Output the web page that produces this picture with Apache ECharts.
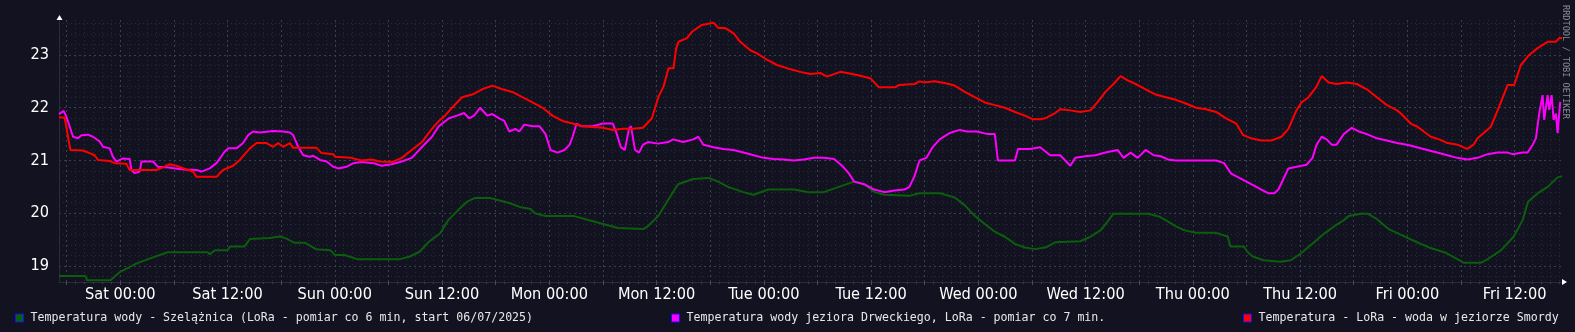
<!DOCTYPE html>
<html><head><meta charset="utf-8">
<script src="https://cdn.jsdelivr.net/npm/echarts@6/dist/echarts.min.js"></script>
<style>html,body{margin:0;padding:0;background:#121221;}#c{width:1575px;height:332px;}</style>
</head><body><div id="c"></div><script>
// hours relative to Saturday 00:00
const xLabelValues = [0,12,24,36,48,60,72,84,96,108,120,132,144,156];
const xLabelTexts = ['Sat 00:00','Sat 12:00','Sun 00:00','Sun 12:00','Mon 00:00','Mon 12:00','Tue 00:00','Tue 12:00','Wed 00:00','Wed 12:00','Thu 00:00','Thu 12:00','Fri 00:00','Fri 12:00'];
const yLabelValues = [19,20,21,22,23];
const seriesNames = [
  'Temperatura wody - Szelążnica (LoRa - pomiar co 6 min, start 06/07/2025)',
  'Temperatura wody jeziora Drweckiego, LoRa - pomiar co 7 min.',
  'Temperatura - LoRa - woda w jeziorze Smordy'
];
const seriesColors = ['#0b5e0b','#ff00ff','#ff0000'];

const greenData = [[-6.85,18.81],[-3.9,18.81],[-3.7,18.73],[-1.1,18.73],[0,18.89],[1.85,19.05],[3.6,19.16],[5.3,19.26],[9.8,19.26],[10.0,19.22],[10.6,19.30],[12.0,19.30],[12.3,19.37],[13.9,19.37],[14.5,19.51],[16.7,19.53],[17.9,19.56],[18.6,19.52],[19.5,19.44],[20.7,19.44],[21.9,19.32],[23.5,19.30],[24.0,19.21],[25.1,19.21],[26.5,19.13],[31.3,19.13],[32.4,19.18],[33.5,19.27],[34.4,19.44],[35.8,19.62],[36.7,19.87],[37.8,20.06],[38.8,20.22],[39.7,20.29],[41.4,20.29],[43.6,20.19],[44.7,20.12],[45.9,20.08],[46.4,20.0],[47.5,19.95],[50.7,19.95],[53.7,19.81],[55.7,19.72],[58.5,19.70],[59.0,19.75],[60.2,19.95],[61.3,20.25],[62.4,20.55],[64.1,20.65],[65.8,20.67],[66.9,20.6],[68.0,20.5],[69.7,20.4],[70.85,20.35],[72.5,20.45],[75.4,20.45],[77.0,20.4],[78.7,20.4],[80.4,20.5],[82.1,20.6],[83.2,20.55],[84.4,20.4],[85.5,20.35],[88.3,20.33],[89.4,20.38],[91.7,20.38],[93.35,20.3],[94.5,20.15],[95.6,19.95],[96.7,19.8],[97.85,19.65],[99.0,19.55],[100.1,19.42],[101.2,19.35],[102.35,19.32],[103.5,19.35],[104.6,19.45],[107.4,19.47],[108.5,19.55],[109.7,19.68],[110.5,19.85],[111.1,19.99],[115.0,19.99],[116.2,19.94],[116.95,19.87],[118.0,19.76],[119.0,19.68],[120.3,19.63],[122.5,19.63],[123.3,19.59],[123.9,19.56],[124.2,19.37],[125.7,19.37],[126.1,19.27],[126.7,19.18],[127.9,19.11],[129.8,19.08],[130.95,19.11],[132.1,19.24],[133.5,19.44],[134.5,19.59],[135.8,19.75],[136.9,19.87],[137.45,19.95],[138.8,19.99],[139.6,19.99],[140.5,19.90],[141.9,19.70],[143.3,19.59],[144.95,19.46],[146.6,19.34],[148.3,19.25],[149.8,19.11],[150.3,19.06],[152.2,19.06],[152.8,19.11],[154.5,19.30],[155.9,19.56],[156.9,19.87],[157.5,20.22],[158.6,20.38],[159.7,20.5],[160.8,20.68],[161.3,20.7]];

const magentaData = [[-6.85,21.88],[-6.7,21.89],[-6.33,21.94],[-6.02,21.83],[-5.28,21.45],[-4.73,21.42],[-4.34,21.48],[-3.61,21.49],[-3.05,21.45],[-2.30,21.36],[-1.93,21.26],[-1.18,21.23],[-0.81,21.07],[-0.43,20.98],[0.31,21.04],[1.06,21.03],[1.25,20.82],[1.62,20.76],[2.18,20.79],[2.37,20.98],[3.67,20.98],[4.23,20.88],[5.17,20.87],[7.03,20.83],[8.53,20.82],[9.09,20.79],[10.02,20.85],[10.77,20.95],[11.70,21.17],[12.07,21.23],[13.01,21.23],[13.75,21.33],[14.31,21.48],[14.87,21.55],[15.62,21.53],[17.11,21.56],[18.23,21.55],[18.98,21.53],[19.35,21.48],[19.91,21.26],[20.47,21.10],[21.22,21.07],[21.59,21.09],[22.34,21.01],[23.09,20.98],[23.83,20.88],[24.39,20.85],[25.31,20.88],[26.09,20.95],[26.99,20.97],[28.34,20.95],[29.24,20.9],[30.37,20.93],[31.49,20.98],[32.62,21.05],[33.74,21.25],[34.87,21.45],[35.65,21.65],[36.78,21.8],[37.68,21.85],[38.47,21.9],[39.03,21.8],[39.59,21.85],[40.27,22.0],[41.05,21.85],[41.62,21.88],[42.4,21.8],[42.96,21.75],[43.53,21.55],[44.2,21.6],[44.65,21.55],[45.21,21.68],[46.11,21.65],[46.9,21.65],[47.58,21.5],[48.14,21.2],[48.93,21.15],[49.71,21.2],[50.28,21.3],[50.61,21.45],[51.06,21.7],[51.51,21.65],[52.86,21.65],[53.99,21.7],[55.11,21.7],[55.56,21.5],[56.01,21.25],[56.46,21.2],[56.91,21.6],[57.14,21.65],[57.59,21.2],[58.04,21.15],[58.49,21.3],[59.05,21.35],[60.17,21.32],[61.3,21.35],[61.86,21.4],[62.99,21.35],[64.11,21.4],[64.67,21.45],[65.24,21.3],[66.36,21.25],[67.48,21.22],[68.61,21.2],[69.73,21.15],[70.86,21.1],[71.98,21.05],[73.11,21.03],[74.23,21.02],[75.36,21.0],[76.48,21.02],[77.61,21.05],[78.73,21.05],[79.86,21.03],[80.76,20.9],[81.54,20.75],[82.11,20.6],[83.23,20.55],[84.36,20.45],[85.48,20.4],[86.6,20.43],[87.73,20.45],[88.29,20.5],[88.85,20.7],[89.42,21.0],[90.2,21.05],[90.88,21.25],[91.67,21.4],[92.79,21.52],[93.92,21.58],[94.7,21.55],[95.83,21.55],[97.06,21.5],[97.85,21.5],[98.19,21.0],[98.98,21.0],[100.1,21.0],[100.44,21.22],[101.79,21.22],[102.91,21.25],[104.04,21.1],[105.16,21.1],[106.29,20.9],[106.85,21.05],[107.97,21.08],[109.1,21.1],[110.22,21.15],[111.57,21.2],[112.25,21.05],[113.04,21.15],[113.82,21.05],[114.72,21.2],[115.62,21.1],[116.41,21.08],[117.2,21.02],[118.1,21.0],[120.91,21.0],[122.6,21.0],[123.5,20.95],[124.29,20.75],[125.41,20.65],[126.53,20.55],[127.66,20.45],[128.44,20.38],[129.12,20.38],[129.57,20.45],[130.13,20.65],[130.69,20.85],[132.16,20.9],[132.72,20.92],[133.39,21.05],[133.84,21.3],[134.41,21.45],[134.97,21.4],[135.53,21.3],[136.09,21.3],[136.88,21.5],[137.78,21.62],[138.56,21.55],[139.47,21.5],[140.59,21.42],[141.71,21.38],[142.84,21.33],[143.96,21.3],[145.09,21.25],[146.21,21.2],[147.34,21.15],[148.46,21.1],[149.59,21.05],[150.71,21.02],[151.84,21.05],[152.97,21.12],[154.09,21.15],[155.21,21.15],[155.78,21.12],[156.9,21.15],[157.46,21.15],[158.02,21.3],[158.38,21.42],[158.75,21.89],[159.13,22.24],[159.31,21.77],[159.69,22.24],[159.87,21.96],[160.14,22.24],[160.36,21.77],[160.62,21.89],[160.81,21.52],[161.1,22.11]];

const redData = [[-6.85,21.82],[-6.21,21.81],[-5.84,21.45],[-5.58,21.20],[-4.17,21.19],[-3.42,21.14],[-2.86,21.10],[-2.49,21.01],[-1.18,20.99],[-0.62,20.95],[0.69,20.94],[1.06,20.82],[4.05,20.82],[4.79,20.87],[5.54,20.93],[6.29,20.90],[7.41,20.83],[8.15,20.79],[8.53,20.69],[10.77,20.69],[11.51,20.82],[12.63,20.90],[13.38,21.01],[14.50,21.23],[15.25,21.33],[16.37,21.33],[17.11,21.26],[17.67,21.33],[18.23,21.26],[18.98,21.33],[19.35,21.24],[21.97,21.24],[22.53,21.14],[23.83,21.12],[24.02,21.07],[25.87,21.05],[26.99,21.0],[28.11,21.02],[29.02,20.98],[30.37,20.97],[31.49,21.05],[32.62,21.2],[33.74,21.35],[34.87,21.6],[35.65,21.75],[36.33,21.85],[37.12,22.0],[37.68,22.1],[38.25,22.2],[39.37,22.25],[40.49,22.35],[41.62,22.42],[42.74,22.35],[43.86,22.3],[44.99,22.2],[46.11,22.1],[47.24,22.0],[48.36,21.85],[49.49,21.75],[50.61,21.7],[51.74,21.65],[53.99,21.62],[55.11,21.58],[56.24,21.6],[57.36,21.6],[58.49,21.62],[59.48,21.80],[60.22,22.21],[60.78,22.40],[61.34,22.75],[61.90,22.75],[62.20,23.13],[62.46,23.25],[63.40,23.32],[63.96,23.44],[65.08,23.57],[66.38,23.61],[66.94,23.51],[67.69,23.51],[68.62,23.41],[69.37,23.25],[70.49,23.09],[71.24,23.03],[72.35,22.91],[73.47,22.81],[74.59,22.75],[76.08,22.68],[77.20,22.64],[78.32,22.66],[79.07,22.59],[80.56,22.68],[81.31,22.66],[82.43,22.62],[83.92,22.56],[84.85,22.39],[85.60,22.39],[86.72,22.39],[87.09,22.43],[88.85,22.45],[89.42,22.5],[89.98,22.48],[91.1,22.5],[92.23,22.47],[93.35,22.42],[94.48,22.3],[95.6,22.2],[96.73,22.1],[97.85,22.05],[98.98,22.0],[100.1,21.92],[101.22,21.85],[102.12,21.78],[102.91,21.78],[103.47,21.8],[104.6,21.9],[105.16,21.97],[106.29,21.95],[107.41,21.92],[108.54,21.95],[109.32,22.1],[110.22,22.3],[111.12,22.45],[111.91,22.6],[112.7,22.52],[113.6,22.45],[114.72,22.35],[115.85,22.25],[116.97,22.2],[118.1,22.15],[119.22,22.08],[120.35,22.0],[121.47,21.97],[122.6,21.92],[123.72,21.8],[124.85,21.7],[125.63,21.48],[126.53,21.42],[127.66,21.38],[128.78,21.38],[129.91,21.45],[130.69,21.6],[131.59,21.95],[132.16,22.1],[132.94,22.2],[133.84,22.4],[134.41,22.6],[135.19,22.48],[136.09,22.45],[137.22,22.48],[138.34,22.45],[139.47,22.35],[140.59,22.2],[141.71,22.05],[142.84,21.95],[143.27,21.89],[144.38,21.70],[145.13,21.64],[146.62,21.45],[147.55,21.40],[148.5,21.33],[149.6,21.3],[150.7,21.22],[151.4,21.3],[151.85,21.42],[153.34,21.64],[154.27,22.02],[155.21,22.43],[155.95,22.43],[156.70,22.81],[157.63,23.0],[158.57,23.13],[159.69,23.25],[160.62,23.25],[160.99,23.32],[161.3,23.32]];

const X_MIN = -6.85, X_MAX = 161.3, Y_MIN = 18.697, Y_MAX = 23.663;
const hourTicks = []; for (let h = -6; h <= 161; h++) if (h % 6 !== 0) hourTicks.push(h);
const sixTicks = []; for (let h = -6; h <= 161; h += 6) sixTicks.push(h);
const minorY = []; for (let i = 94; i <= 118; i++) if (i % 5 !== 0) minorY.push(+(i * 0.2).toFixed(1));

const BG = '#121221';
const MINOR = '#272a39';
const MAJOR = '#3b4051';
const AX_FONT = '"DejaVu Sans Condensed", "DejaVu Sans", sans-serif';
const LG_FONT = '"DejaVu Sans Mono", monospace';

const chart = echarts.init(document.getElementById('c'), null, {renderer: 'canvas'});
const legendPos = [15, 671, 1243];
chart.setOption({
  backgroundColor: BG,
  animation: false,
  grid: {left: 59, right: 13, top: 20, bottom: 50, containLabel: false},
  xAxis: [
    {type: 'value', min: X_MIN, max: X_MAX, position: 'bottom',
     axisLine: {show: true, onZero: false, lineStyle: {color: '#2b2c38', width: 1}},
     axisTick: {show: true, customValues: hourTicks, length: 2, lineStyle: {color: '#3a3d4a'}},
     axisLabel: {show: false},
     splitLine: {show: true, lineStyle: {color: MINOR, width: 1, type: [1, 3]}}},
    {type: 'value', min: X_MIN, max: X_MAX, position: 'bottom',
     axisLine: {show: false, onZero: false},
     axisTick: {show: true, customValues: sixTicks, length: 3, lineStyle: {color: '#4a4d5a'}},
     axisLabel: {show: true, customValues: xLabelValues, margin: 5,
       formatter: v => xLabelTexts[Math.round(v / 12)],
       color: '#ffffff', fontSize: 16.2, fontFamily: AX_FONT},
     splitLine: {show: true, lineStyle: {color: MAJOR, width: 1, type: [2, 3]}}}
  ],
  yAxis: [
    {type: 'value', min: Y_MIN, max: Y_MAX, position: 'left',
     axisLine: {show: true, onZero: false, lineStyle: {color: '#2b2c38', width: 1}},
     axisTick: {show: false, customValues: minorY},
     axisLabel: {show: false},
     splitLine: {show: true, lineStyle: {color: MINOR, width: 1, type: [1, 3]}}},
    {type: 'value', min: Y_MIN, max: Y_MAX, position: 'left', offset: 0,
     axisLine: {show: false, onZero: false},
     axisTick: {show: false, customValues: yLabelValues},
     axisLabel: {show: true, customValues: yLabelValues, margin: 10,
       color: '#ffffff', fontSize: 16.2, fontFamily: AX_FONT},
     splitLine: {show: true, lineStyle: {color: MAJOR, width: 1, type: [2, 3]}}}
  ],
  legend: seriesNames.map((n, i) => ({
    data: [n], left: legendPos[i], top: 312, padding: 0, selectedMode: false,
    itemWidth: 8, itemHeight: 8, icon: 'rect',
    itemStyle: {borderColor: '#1010ff', borderWidth: 1},
    textStyle: {color: '#e8e8e8', fontSize: 11.6, fontFamily: LG_FONT, padding: [0, 0, 0, 2]}
  })),
  series: [greenData, magentaData, redData].map((d, i) => ({
    type: 'line', name: seriesNames[i], data: d, xAxisIndex: 0, yAxisIndex: 0,
    showSymbol: false, symbol: 'none', clip: true, z: 3 + i,
    lineStyle: {color: seriesColors[i], width: 2},
    itemStyle: {color: seriesColors[i]}
  })),
  graphic: [
    {type: 'polygon', shape: {points: [[56.5, 20], [62.5, 20], [59.5, 15]]}, style: {fill: '#ffffff'}, z: 10},
    {type: 'polygon', shape: {points: [[1562, 279], [1562, 285], [1567, 282]]}, style: {fill: '#ffffff'}, z: 10},
    {type: 'text', x: 1565, y: 5, rotation: -Math.PI / 2,
     style: {text: 'RRDTOOL / TOBI OETIKER', fill: '#8a8a96', font: '8.6px "DejaVu Sans Mono", monospace', align: 'left', verticalAlign: 'middle'}, z: 10}
  ]
});
</script></body></html>
